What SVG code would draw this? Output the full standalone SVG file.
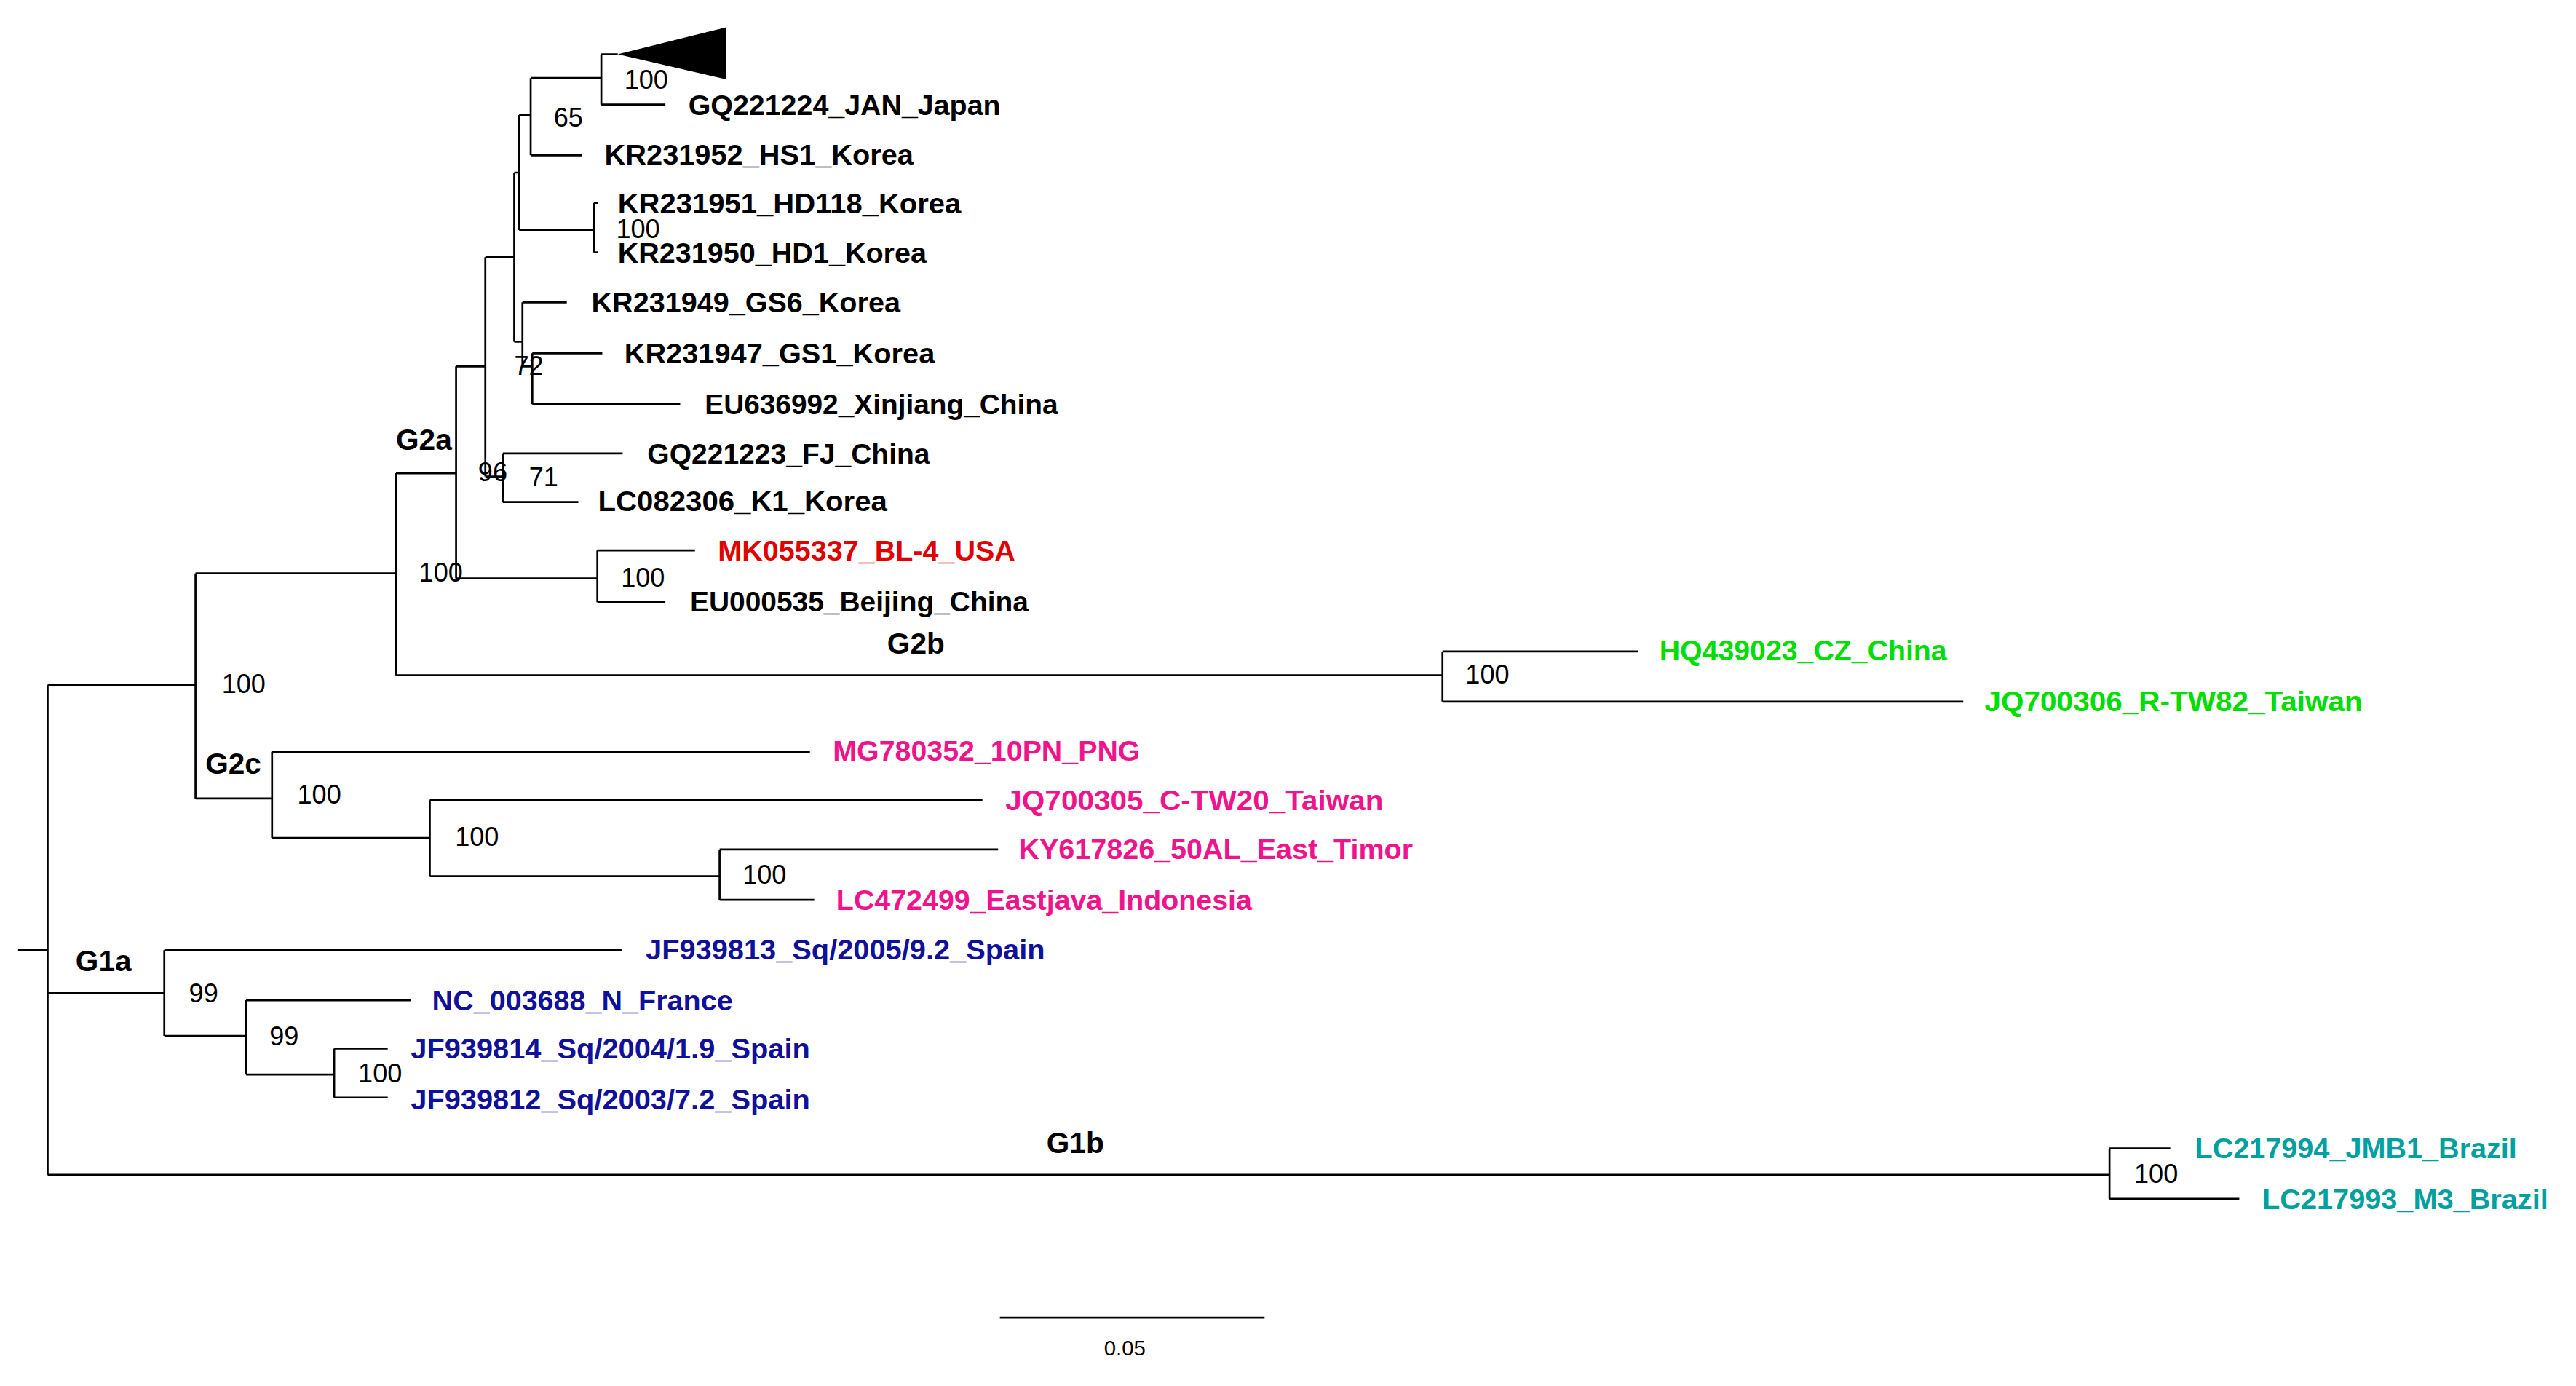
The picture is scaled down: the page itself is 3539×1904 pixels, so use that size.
<svg xmlns="http://www.w3.org/2000/svg" width="3539" height="1904" viewBox="0 0 3539 1904">
<style>
.e{fill:none;stroke:#000;stroke-width:1.2}
.l{font-family:"Liberation Sans",Arial,sans-serif;font-weight:bold;font-size:17px}
.s{font-family:"Liberation Sans",Arial,sans-serif;font-size:16px;fill:#000}
.c{font-family:"Liberation Sans",Arial,sans-serif;font-weight:bold;font-size:18px;fill:#000}
.k{fill:#000}.r{fill:#e00000}.g{fill:#00dd00}.p{fill:#f0148c}.b{fill:#10109a}.t{fill:#00a0a0}
</style>
<rect width="3539" height="1904" fill="#fff"/>
<g transform="scale(2.2571)">
<g id="connectors">
<path class="e" d="M11 578H29M29 417V715M29 417H119M119 349V486M119 349H241M241 288V411M241 288H277.6M277.6 223V352M277.6 223H295.4M295.4 156.5V290M295.4 156.5H313M313 105V208M313 105H316M316 70V140M316 70H323M323 47.5V94.5M323 47.5H366M366 33V63.6M366 33H376M366 63.6H405M323 94.5H354M316 140H361.5M361.5 123.5V153.6M361.5 123.5H364M361.5 153.6H364M313 208H318M318 184V223M318 184H345M318 223H324M324 215V246M324 215H366.6M324 246H414M295.4 290H306M306 276V305.5M306 276H379M306 305.5H352M277.6 352H363.6M363.6 335V366.5M363.6 335H423M363.6 366.5H405M241 411H878M878 396.5V427M878 396.5H997M878 427H1195M119 486H165.6M165.6 457.6V510M165.6 457.6H493M165.6 510H261.6M261.6 487V533.3M261.6 487H598M261.6 533.3H438M438 517V547.7M438 517H607.5M438 547.7H495.6M29 604.5H100M100 578.3V630.5M100 578.3H378.6M100 630.5H149.8M149.8 608.8V654M149.8 608.8H250M149.8 654H203.4M203.4 638.2V668M203.4 638.2H236M203.4 668H236M29 715H1284M1284 699V729.6M1284 699H1321M1284 729.6H1363M608.6 802H769.7"/>
<polygon points="376,33 442,16.6 442,48.3" fill="#000"/>
</g>
<g id="leaves">
<text class="l k" x="419" y="70" textLength="190" lengthAdjust="spacingAndGlyphs">GQ221224_JAN_Japan</text>
<text class="l k" x="368" y="100" textLength="188" lengthAdjust="spacingAndGlyphs">KR231952_HS1_Korea</text>
<text class="l k" x="376" y="130" textLength="209" lengthAdjust="spacingAndGlyphs">KR231951_HD118_Korea</text>
<text class="l k" x="376" y="160" textLength="188" lengthAdjust="spacingAndGlyphs">KR231950_HD1_Korea</text>
<text class="l k" x="360" y="190" textLength="188" lengthAdjust="spacingAndGlyphs">KR231949_GS6_Korea</text>
<text class="l k" x="380" y="221" textLength="189" lengthAdjust="spacingAndGlyphs">KR231947_GS1_Korea</text>
<text class="l k" x="429" y="252" textLength="215" lengthAdjust="spacingAndGlyphs">EU636992_Xinjiang_China</text>
<text class="l k" x="394" y="282" textLength="172" lengthAdjust="spacingAndGlyphs">GQ221223_FJ_China</text>
<text class="l k" x="364" y="311" textLength="176" lengthAdjust="spacingAndGlyphs">LC082306_K1_Korea</text>
<text class="l r" x="437" y="341" textLength="181" lengthAdjust="spacingAndGlyphs">MK055337_BL-4_USA</text>
<text class="l k" x="420" y="372" textLength="206" lengthAdjust="spacingAndGlyphs">EU000535_Beijing_China</text>
<text class="l g" x="1010" y="402" textLength="175" lengthAdjust="spacingAndGlyphs">HQ439023_CZ_China</text>
<text class="l g" x="1208" y="433" textLength="230" lengthAdjust="spacingAndGlyphs">JQ700306_R-TW82_Taiwan</text>
<text class="l p" x="507" y="463" textLength="187" lengthAdjust="spacingAndGlyphs">MG780352_10PN_PNG</text>
<text class="l p" x="612" y="493" textLength="230" lengthAdjust="spacingAndGlyphs">JQ700305_C-TW20_Taiwan</text>
<text class="l p" x="620" y="523" textLength="240" lengthAdjust="spacingAndGlyphs">KY617826_50AL_East_Timor</text>
<text class="l p" x="509" y="554" textLength="253" lengthAdjust="spacingAndGlyphs">LC472499_Eastjava_Indonesia</text>
<text class="l b" x="393" y="584" textLength="243" lengthAdjust="spacingAndGlyphs">JF939813_Sq/2005/9.2_Spain</text>
<text class="l b" x="263" y="615" textLength="183" lengthAdjust="spacingAndGlyphs">NC_003688_N_France</text>
<text class="l b" x="250" y="644" textLength="243" lengthAdjust="spacingAndGlyphs">JF939814_Sq/2004/1.9_Spain</text>
<text class="l b" x="250" y="675" textLength="243" lengthAdjust="spacingAndGlyphs">JF939812_Sq/2003/7.2_Spain</text>
<text class="l t" x="1336" y="705" textLength="196" lengthAdjust="spacingAndGlyphs">LC217994_JMB1_Brazil</text>
<text class="l t" x="1377" y="736" textLength="174" lengthAdjust="spacingAndGlyphs">LC217993_M3_Brazil</text>
</g>
<g id="support">
<text class="s" x="380" y="54">100</text>
<text class="s" x="337" y="77">65</text>
<text class="s" x="375" y="145">100</text>
<text class="s" x="313" y="228">72</text>
<text class="s" x="291" y="293">96</text>
<text class="s" x="322" y="296">71</text>
<text class="s" x="378" y="357">100</text>
<text class="s" x="255" y="354">100</text>
<text class="s" x="135" y="422">100</text>
<text class="s" x="892" y="416">100</text>
<text class="s" x="181" y="489">100</text>
<text class="s" x="277" y="515">100</text>
<text class="s" x="452" y="538">100</text>
<text class="s" x="115" y="610">99</text>
<text class="s" x="164" y="636">99</text>
<text class="s" x="218" y="659">100</text>
<text class="s" x="1299" y="720">100</text>
<text class="s" x="672" y="825" style="font-size:13px">0.05</text>
</g>
<g id="clades">
<text class="c" x="241" y="274">G2a</text>
<text class="c" x="540" y="398">G2b</text>
<text class="c" x="125" y="471">G2c</text>
<text class="c" x="46" y="591">G1a</text>
<text class="c" x="637" y="702">G1b</text>
</g>
</g>
</svg>
